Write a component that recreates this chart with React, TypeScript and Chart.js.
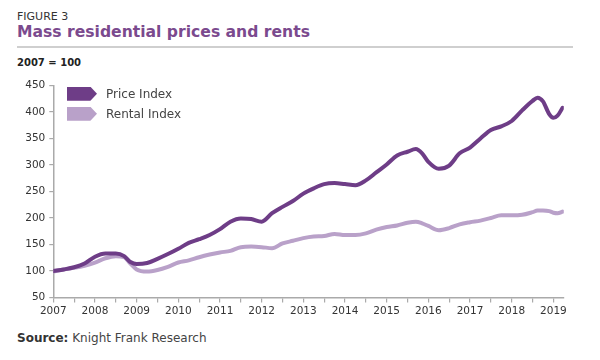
import React, { useEffect, useRef } from "react";
import { Chart, registerables } from "chart.js";

Chart.register(...registerables);

const years = [
  2007, 2007.25, 2007.5, 2007.75, 2008, 2008.25, 2008.5, 2008.7, 2008.85, 2009,
  2009.25, 2009.5, 2009.75, 2010, 2010.25, 2010.5, 2010.75, 2011, 2011.25, 2011.5,
  2011.75, 2012, 2012.25, 2012.5, 2012.75, 2013, 2013.25, 2013.5, 2013.75, 2014,
  2014.25, 2014.5, 2014.75, 2015, 2015.25, 2015.5, 2015.7, 2015.85, 2016, 2016.25,
  2016.5, 2016.75, 2017, 2017.25, 2017.5, 2017.75, 2018, 2018.25, 2018.5, 2018.62,
  2018.75, 2018.9, 2019, 2019.1, 2019.22,
];

const priceIndex = [
  100, 103, 107, 114, 127, 133, 133, 128, 117, 113,
  115, 123, 132, 142, 153, 160, 168, 179, 193, 199,
  198, 193, 209, 221, 232, 246, 256, 264, 266, 264,
  262, 271, 286, 301, 318, 325, 330, 322, 306, 293,
  299, 322, 333, 350, 366, 373, 383, 403, 421, 427,
  420, 396, 389, 393, 408,
];

const rentalIndex = [
  99, 103, 106, 110, 116, 124, 128, 126, 114, 103,
  99, 102, 108, 116, 120, 126, 131, 135, 138, 145,
  146, 145, 143, 152, 157, 162, 165, 166, 170, 168,
  168, 171, 178, 183, 186, 191, 193, 190, 185, 177,
  181, 188, 192, 195, 200, 205, 205, 206, 211, 214,
  214, 213, 210, 209, 212,
];

const xTickYears = [
  2007, 2007.5, 2008, 2008.5, 2009, 2009.5, 2010, 2010.5, 2011, 2011.5, 2012, 2012.5,
  2013, 2013.5, 2014, 2014.5, 2015, 2015.5, 2016, 2016.5, 2017, 2017.5, 2018, 2018.5, 2019,
];
const yTicks = [50, 100, 150, 200, 250, 300, 350, 400, 450];

const seriesNames = ["Price Index", "Rental Index"];
const PRICE_COLOR = "#6e3d87";
const RENT_COLOR = "#b9a1c9";
const FONT = "'DejaVu Sans', sans-serif";

export default function App() {
  const canvasRef = useRef<HTMLCanvasElement | null>(null);

  useEffect(() => {
    const canvas = canvasRef.current;
    if (!canvas) return;
    const chart = new Chart(canvas, {
      type: "line",
      data: {
        datasets: [
          {
            label: seriesNames[0],
            data: years.map((x, i) => ({ x, y: priceIndex[i] })),
            borderColor: PRICE_COLOR,
            backgroundColor: PRICE_COLOR,
            borderWidth: 4,
            pointRadius: 0,
            tension: 0.4,
            cubicInterpolationMode: "monotone",
            borderCapStyle: "round",
            borderJoinStyle: "round",
            order: 0,
          },
          {
            label: seriesNames[1],
            data: years.map((x, i) => ({ x, y: rentalIndex[i] })),
            borderColor: RENT_COLOR,
            backgroundColor: RENT_COLOR,
            borderWidth: 4,
            pointRadius: 0,
            tension: 0.4,
            cubicInterpolationMode: "monotone",
            borderCapStyle: "round",
            borderJoinStyle: "round",
            order: 1,
          },
        ],
      },
      options: {
        animation: false,
        responsive: false,
        devicePixelRatio: 1,
        layout: { padding: { top: 15.5, right: 36.2, left: 0, bottom: 0 } },
        plugins: { legend: { display: false }, tooltip: { enabled: false } },
        scales: {
          x: {
            type: "linear",
            min: 2007,
            max: 2019.25,
            afterBuildTicks: (s: any) => {
              s.ticks = xTickYears.map((v) => ({ value: v }));
            },
            afterFit: (s: any) => {
              s.height = 32.5;
            },
            ticks: {
              autoSkip: false,
              maxRotation: 0,
              padding: 2,
              color: "#333",
              font: { family: FONT, size: 10.5 },
              callback: (v: any) => (Number.isInteger(Number(v)) ? String(v) : ""),
            },
            grid: {
              display: true,
              drawOnChartArea: false,
              drawTicks: true,
              tickLength: 5,
              color: "#aaaaaa",
              lineWidth: 1.2,
            },
            border: { display: true, color: "#aaaaaa", width: 1.5 },
          },
          y: {
            min: 50,
            max: 450,
            afterBuildTicks: (s: any) => {
              s.ticks = yTicks.map((v) => ({ value: v }));
            },
            afterFit: (s: any) => {
              s.width = 53.3;
            },
            ticks: {
              padding: 4,
              color: "#333",
              font: { family: FONT, size: 10.5 },
            },
            grid: {
              display: true,
              drawOnChartArea: false,
              drawTicks: true,
              tickLength: 4,
              color: "#aaaaaa",
              lineWidth: 1.2,
            },
            border: { display: true, color: "#aaaaaa", width: 1.5 },
          },
        },
      },
    } as any);
    return () => chart.destroy();
  }, []);

  const swatch = (color: string, top: number) => (
    <div
      style={{
        position: "absolute",
        left: 67,
        top,
        width: 30,
        height: 14,
        background: color,
        clipPath: "polygon(0 0, 78% 0, 100% 50%, 78% 100%, 0 100%)",
      }}
    />
  );

  const textStyle = (top: number, size: number, extra: any = {}) => ({
    position: "absolute" as const,
    left: 17,
    top,
    fontSize: size,
    lineHeight: `${size}px`,
    whiteSpace: "nowrap" as const,
    fontFamily: FONT,
    ...extra,
  });

  return (
    <div
      style={{
        position: "fixed",
        left: 0,
        top: 0,
        width: 600,
        height: 360,
        background: "#fff",
        overflow: "hidden",
        fontFamily: FONT,
      }}
    >
      <div style={textStyle(11.4, 11, { color: "#333" })}>FIGURE 3</div>
      <div style={textStyle(25.3, 15.6, { color: "#7b4a8e", fontWeight: "bold" })}>
        Mass residential prices and rents
      </div>
      <div
        style={{
          position: "absolute",
          left: 17,
          top: 46,
          width: 556,
          height: 2,
          background: "#cfcfcf",
        }}
      />
      <div style={textStyle(58.2, 10, { color: "#222", fontWeight: "bold" })}>2007 = 100</div>

      <canvas
        ref={canvasRef}
        width={600}
        height={260}
        style={{ position: "absolute", left: 0, top: 70, width: 600, height: 260 }}
      />

      {swatch(PRICE_COLOR, 86.7)}
      <div style={textStyle(87.7, 12, { left: 106, color: "#444" })}>{seriesNames[0]}</div>
      {swatch(RENT_COLOR, 106.7)}
      <div style={textStyle(107.7, 12, { left: 106, color: "#444" })}>{seriesNames[1]}</div>

      <div style={textStyle(331.8, 12, { color: "#444" })}>
        <span style={{ fontWeight: "bold", color: "#333" }}>Source:</span> Knight Frank Research
      </div>
    </div>
  );
}
